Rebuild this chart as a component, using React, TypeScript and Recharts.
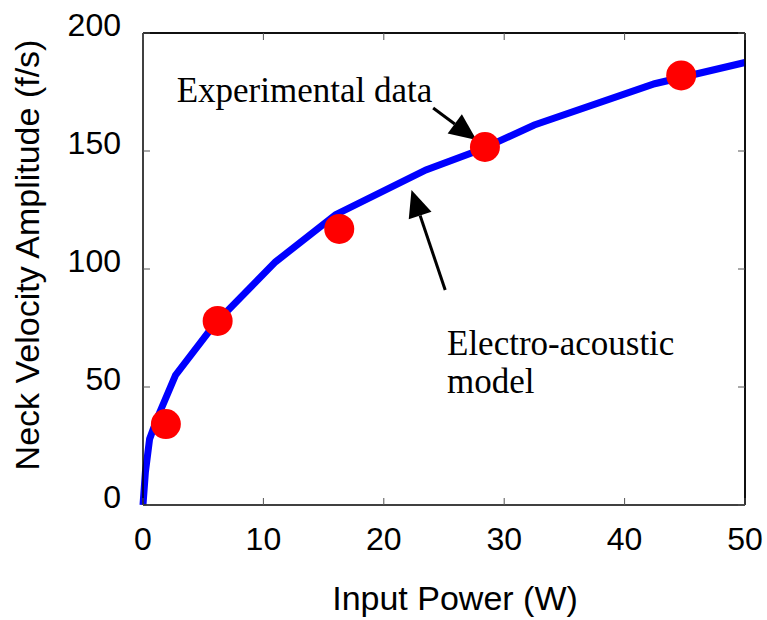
import React from "react";
import {
  ComposedChart,
  Line,
  Scatter,
  XAxis,
  YAxis,
  ReferenceLine,
  ReferenceDot,
} from "recharts";

// model curve (electro-acoustic)
const modelPower = [0, 0.2, 0.55, 1.2, 2.7, 6, 11, 16, 23.5, 28, 32.5, 42.5, 50];
const modelVelocity = [0, 14, 28, 37, 55, 77, 103, 123, 142, 150.5, 161, 178.5, 187.5];

// measured points
const expPower = [1.9, 6.2, 16.3, 28.4, 44.7];
const expVelocity = [34.3, 78, 117, 151.7, 182];

const xTicks = [0, 10, 20, 30, 40, 50];
const yTicks = [0, 50, 100, 150, 200];

const modelData = modelPower.map((x, i) => ({ x, y: modelVelocity[i] }));
const expData = expPower.map((x, i) => ({ x, y: expVelocity[i] }));

const SANS = "'Liberation Sans', Arial, sans-serif";
const SERIF = "'Liberation Serif', 'Times New Roman', serif";

const BottomTick = (props: any) => {
  const { x, y, payload } = props;
  return (
    <g>
      <line x1={x} y1={y} x2={x} y2={y - 7} stroke="#555" strokeWidth={1} />
      <text x={x} y={y + 45} textAnchor="middle" fontSize={32} fontFamily={SANS} fill="#000">
        {payload.value}
      </text>
    </g>
  );
};

const LeftTick = (props: any) => {
  const { x, y, payload } = props;
  return (
    <g>
      <line x1={x} y1={y} x2={x + 7} y2={y} stroke="#555" strokeWidth={1} />
      <text x={x - 22} y={y + 3} textAnchor="end" fontSize={32} fontFamily={SANS} fill="#000">
        {payload.value}
      </text>
    </g>
  );
};

const TopTick = (props: any) => {
  const { x, y } = props;
  return <line x1={x} y1={y} x2={x} y2={y + 7} stroke="#555" strokeWidth={1} />;
};

const RightTick = (props: any) => {
  const { x, y } = props;
  return <line x1={x} y1={y} x2={x - 7} y2={y} stroke="#555" strokeWidth={1} />;
};

const Arrow = (props: any) => {
  const { x1, y1, x2, y2 } = props;
  const dx = x2 - x1;
  const dy = y2 - y1;
  const len = Math.sqrt(dx * dx + dy * dy);
  const ux = dx / len;
  const uy = dy / len;
  const head = 27;
  const half = 12;
  const bx = x2 - ux * head;
  const by = y2 - uy * head;
  return (
    <g>
      <line x1={x1} y1={y1} x2={bx} y2={by} stroke="#000" strokeWidth={3} />
      <polygon
        points={`${x2},${y2} ${bx - uy * half},${by + ux * half} ${bx + uy * half},${by - ux * half}`}
        fill="#000"
      />
    </g>
  );
};

const note = (text: string) => (props: any) => (
  <text x={props.cx} y={props.cy} fontSize={35} fontFamily={SERIF} fill="#000">
    {text}
  </text>
);

export default function App() {
  return (
    <div style={{ position: "absolute", left: 0, top: 0, background: "#fff" }}>
      <ComposedChart
        width={767}
        height={620}
        margin={{ top: 32, right: 21, bottom: 0, left: 0 }}
      >
        <XAxis
          dataKey="x"
          type="number"
          domain={[0, 50]}
          ticks={xTicks}
          height={115}
          tickSize={0}
          tickMargin={0}
          tickLine={false}
          axisLine={{ stroke: "#000", strokeWidth: 1.5 }}
          tick={<BottomTick />}
          interval={0}
          label={{
            content: (p: any) => {
              const vb = p.viewBox;
              return (
                <text
                  x={vb.x + vb.width / 2 + 11}
                  y={vb.y + 105}
                  textAnchor="middle"
                  fontSize={34}
                  fontFamily={SANS}
                  fill="#000"
                >
                  Input Power (W)
                </text>
              );
            },
          }}
        />
        <XAxis
          xAxisId="top"
          dataKey="x"
          type="number"
          orientation="top"
          domain={[0, 50]}
          ticks={xTicks}
          height={1}
          tickSize={0}
          tickMargin={0}
          tickLine={false}
          axisLine={{ stroke: "#000", strokeWidth: 1.5 }}
          tick={<TopTick />}
          interval={0}
        />
        <YAxis
          type="number"
          domain={[0, 200]}
          ticks={yTicks}
          width={143}
          tickSize={0}
          tickMargin={0}
          tickLine={false}
          axisLine={{ stroke: "#000", strokeWidth: 1.5 }}
          tick={<LeftTick />}
          interval={0}
          label={{
            content: (p: any) => {
              const vb = p.viewBox;
              const cx = vb.x + 39;
              const cy = vb.y + vb.height / 2 - 14;
              return (
                <text
                  x={cx}
                  y={cy}
                  transform={`rotate(-90 ${cx} ${cy})`}
                  textAnchor="middle"
                  fontSize={34}
                  fontFamily={SANS}
                  fill="#000"
                >
                  Neck Velocity Amplitude (f/s)
                </text>
              );
            },
          }}
        />
        <YAxis
          yAxisId="right"
          type="number"
          orientation="right"
          domain={[0, 200]}
          ticks={yTicks}
          width={1}
          tickSize={0}
          tickMargin={0}
          tickLine={false}
          axisLine={{ stroke: "#000", strokeWidth: 1.5 }}
          tick={<RightTick />}
          interval={0}
        />
        <ReferenceLine y={200} stroke="#000" strokeWidth={1.5} />
        <ReferenceLine x={50} stroke="#000" strokeWidth={1.5} />
        <Line
          data={modelData}
          dataKey="y"
          type="linear"
          stroke="#0000ff"
          strokeWidth={7}
          dot={false}
          activeDot={false}
          isAnimationActive={false}
        />
        <Scatter
          data={expData}
          dataKey="y"
          xAxisId="top"
          yAxisId="right"
          fill="#ff0000"
          shape={(p: any) => <circle cx={p.cx} cy={p.cy} r={15} fill="#ff0000" />}
          isAnimationActive={false}
        />
        <ReferenceLine
          segment={[
            { x: 24.1, y: 168.2 },
            { x: 27.7, y: 154.7 },
          ]}
          shape={Arrow}
        />
        <ReferenceLine
          segment={[
            { x: 25.1, y: 91.1 },
            { x: 22.3, y: 133.5 },
          ]}
          shape={Arrow}
        />
        <ReferenceDot x={2.8} y={170.8} r={0} shape={note("Experimental data")} />
        <ReferenceDot x={25.25} y={63.6} r={0} shape={note("Electro-acoustic")} />
        <ReferenceDot x={25.25} y={47.5} r={0} shape={note("model")} />
      </ComposedChart>
    </div>
  );
}
